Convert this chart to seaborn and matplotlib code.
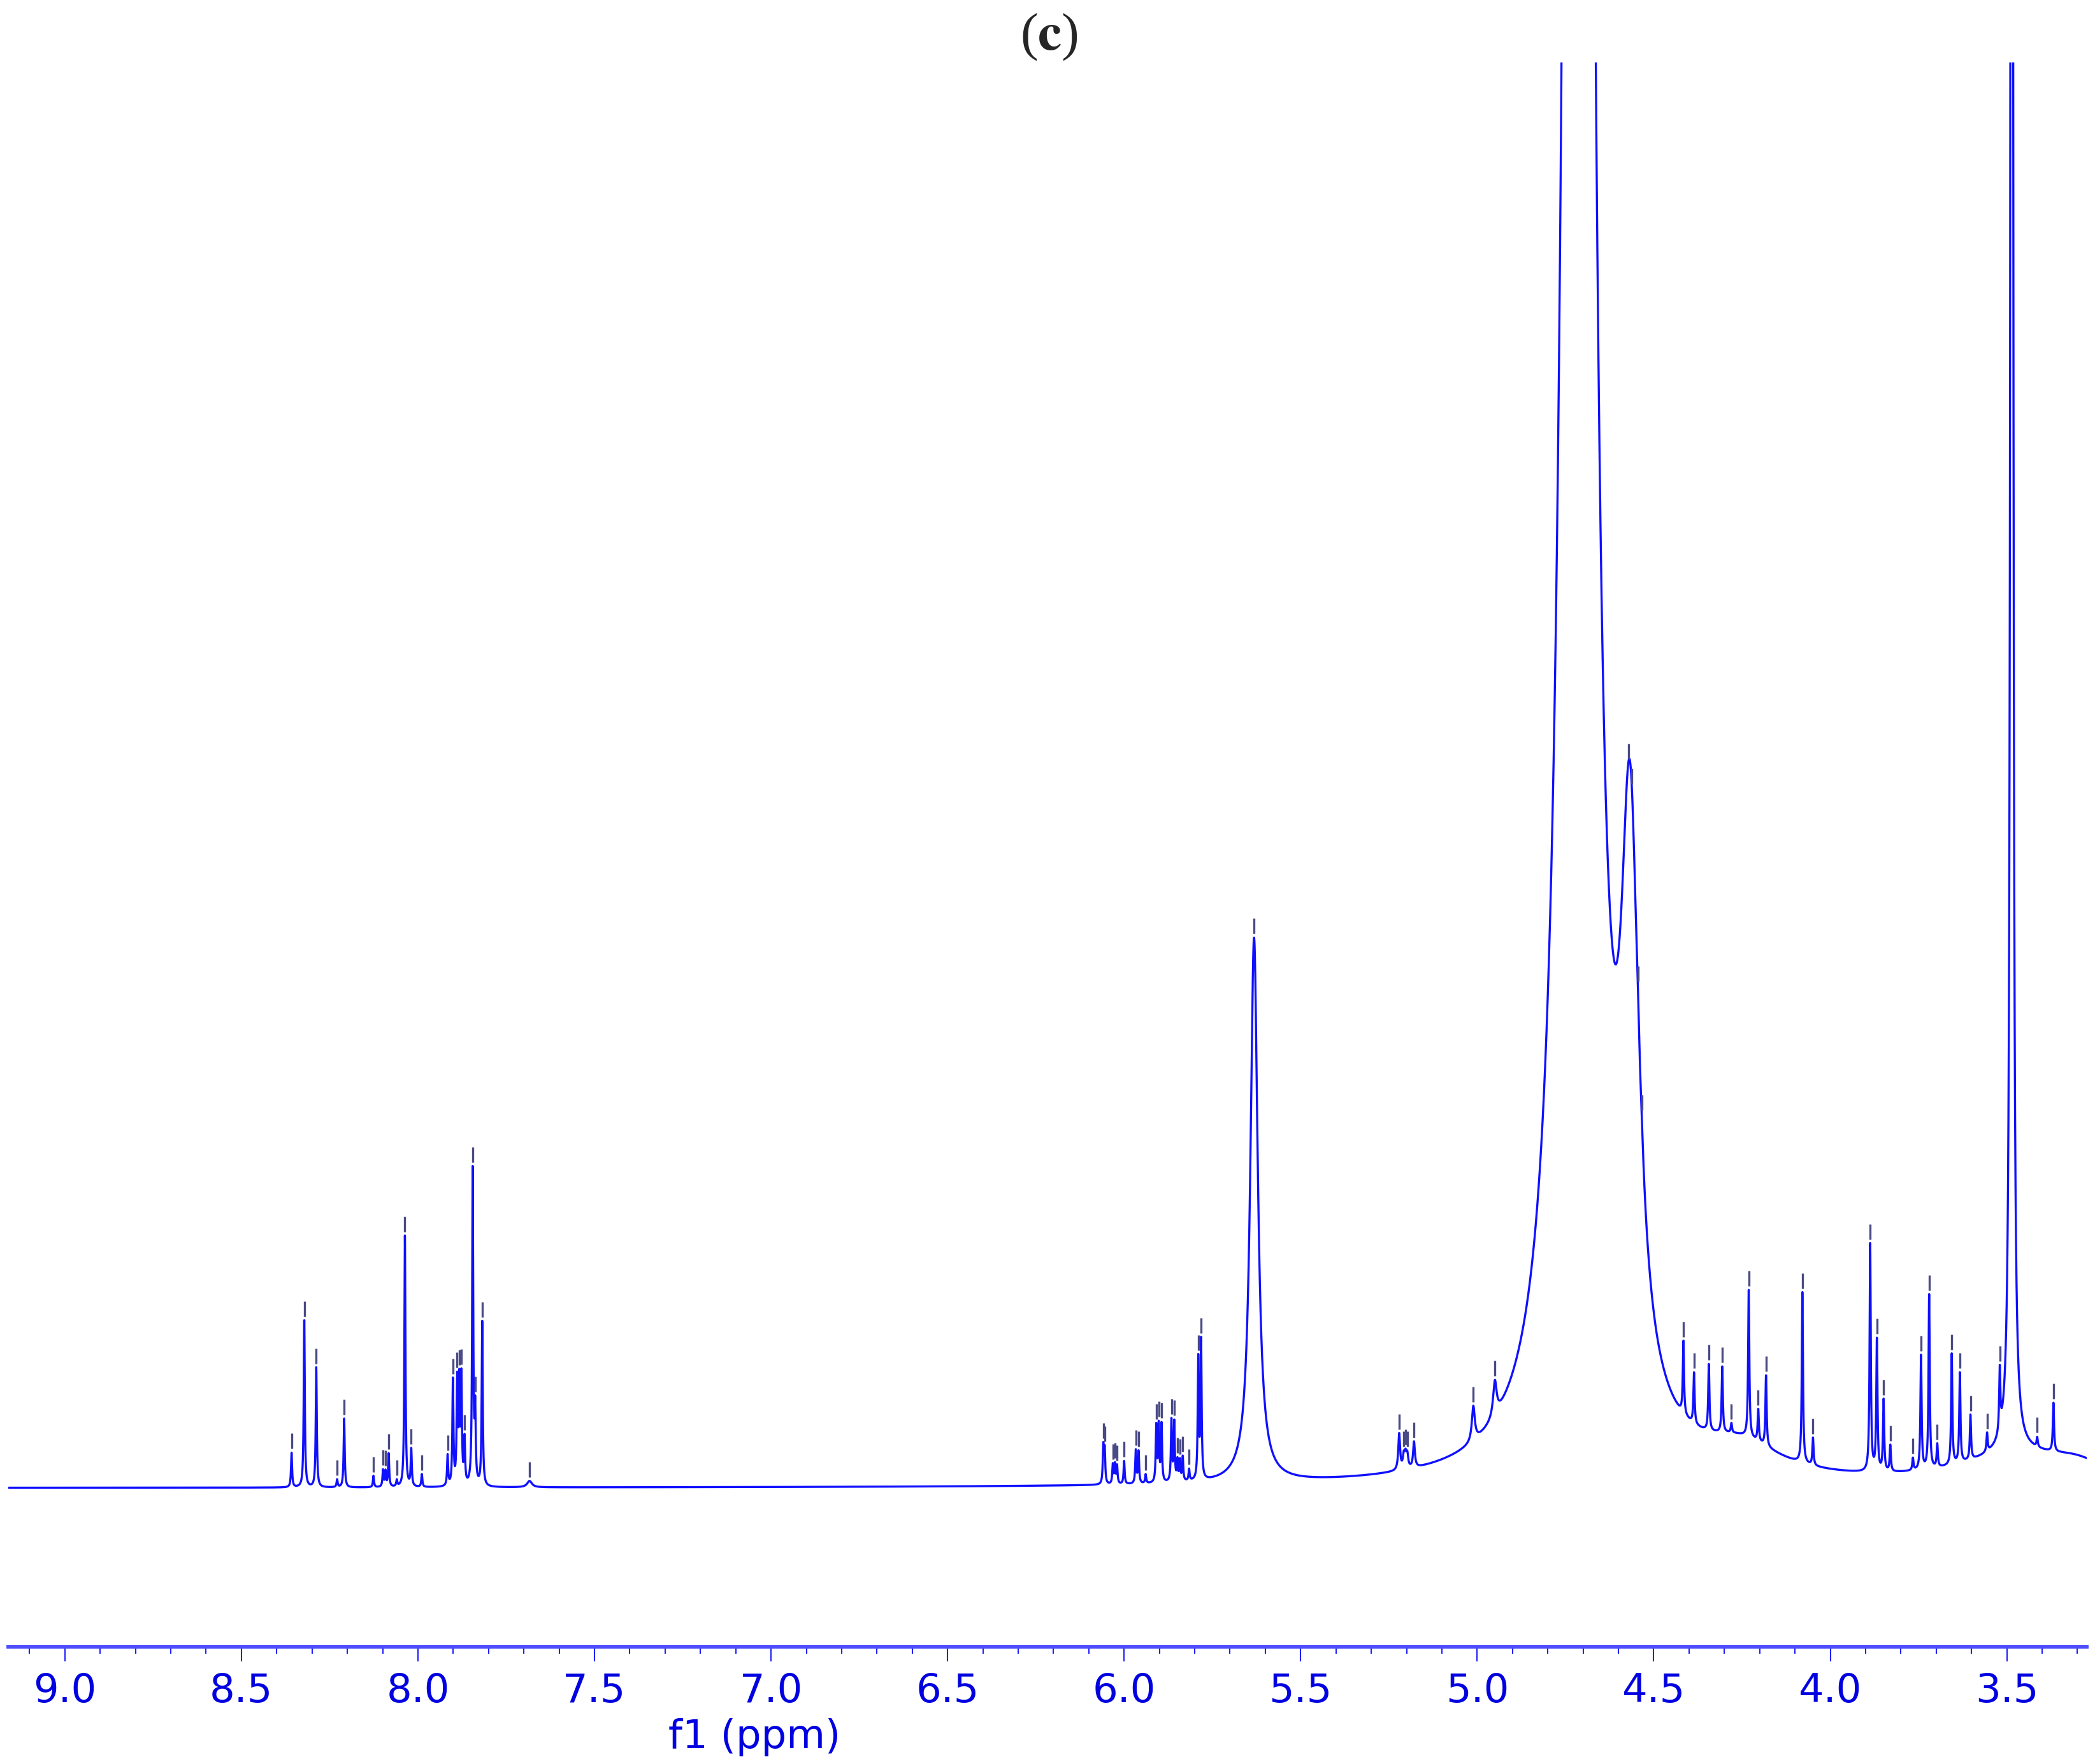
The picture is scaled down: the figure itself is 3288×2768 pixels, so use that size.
import numpy as np
import pandas as pd
import seaborn as sns
import matplotlib.pyplot as plt

# picked peaks: shift (ppm), height (baseline = 0), half width (ppm)
peak_ppm = [8.358, 8.322, 8.288, 8.229, 8.209, 8.126, 8.099, 8.092, 8.083, 8.060,
            8.037, 8.019, 7.989, 7.916, 7.901, 7.889, 7.883, 7.877, 7.868, 7.845,
            7.838, 7.818, 7.684,
            6.059, 6.055, 6.032, 6.026, 6.020, 6.000, 5.967, 5.959, 5.939, 5.909,
            5.902, 5.894, 5.866, 5.858, 5.849, 5.842, 5.834, 5.816, 5.790, 5.782,
            5.632,
            5.221, 5.208, 5.203, 5.198, 5.179, 5.011, 4.950,
            4.572, 4.562, 4.545, 4.534,
            4.416, 4.386, 4.344, 4.306, 4.280, 4.231, 4.204, 4.182, 4.079, 4.049,
            3.887, 3.868, 3.849, 3.830, 3.766, 3.743, 3.720, 3.697, 3.656, 3.633,
            3.603, 3.556, 3.520, 3.414, 3.368]
peak_height = [54, 262, 188, 12, 108, 18, 26, 24, 52, 10,
               395, 58, 20, 48, 165, 160, 155, 165, 70, 495,
               110, 258, 10,
               58, 52, 30, 30, 28, 36, 52, 50, 14, 88,
               88, 90, 96, 92, 32, 32, 38, 18, 188, 216,
               855,
               57, 20, 20, 20, 40, 55, 55,
               450, 430, 20, 15,
               114, 80, 104, 103, 15, 231, 50, 111, 268, 43,
               357, 206, 112, 41, 19, 179, 273, 36, 174, 141,
               70, 29, 98, 15, 76]
peak_hw = ([0.0018] * 22 + [0.008]          # aromatic
           + [0.0018] * 20                  # 6.1 - 5.78
           + [0.0125]                       # 5.63
           + [0.003] * 5 + [0.005, 0.006]   # 5.22 - 4.95
           + [0.028, 0.028, 0.004, 0.004]   # 4.57
           + [0.002] * 25)                  # 4.42 - 3.37

# unpicked lines: water, broad sugar hump, singlet at 3.49 and the broad feet
big_ppm = [4.713, 4.25, 3.486, 3.47, 3.30]
big_height = [15100, 45, 8000, 45, 20]
big_hw = [0.02, 0.13, 0.0025, 0.2, 0.1]

ticks_major = [9.0, 8.5, 8.0, 7.5, 7.0, 6.5, 6.0, 5.5, 5.0, 4.5, 4.0, 3.5]

ppm = np.linspace(9.16, 3.274, 40000)
intensity = np.zeros_like(ppm)
for c, h, w in zip(peak_ppm + big_ppm, peak_height + big_height, peak_hw + big_hw):
    intensity += h / (1 + ((ppm - c) / w) ** 2)
df = pd.DataFrame({"ppm": ppm, "intensity": intensity})

sns.set_theme(style="white")
plt.rcParams["font.family"] = ["DejaVu Sans"]
plt.rcParams["mathtext.fontset"] = "stix"

fig = plt.figure(figsize=(10.96, 9.2267), dpi=300)
ax = fig.add_axes([0.004, 0.0665, 0.992, 0.8981])

sns.lineplot(data=df, x="ppm", y="intensity", ax=ax, color="#1010ff",
             lw=0.8, estimator=None, sort=False)

# peak pick markers
top = np.interp(peak_ppm, ppm[::-1], intensity[::-1])
ax.vlines(peak_ppm, top + 6, top + 30, color="#4a4a85", lw=0.8)

ax.set_xlim(9.16, 3.274)
ax.set_ylim(-249, 2237)
for s in ["left", "right", "top"]:
    ax.spines[s].set_visible(False)
ax.spines["bottom"].set_color("#4d4dff")
ax.spines["bottom"].set_linewidth(1.4)
ax.set_yticks([])
ax.set_ylabel("")
ax.set_xticks(ticks_major)
ax.set_xticklabels([f"{t:.1f}" for t in ticks_major])
ax.set_xticks(np.arange(3.3, 9.15, 0.1), minor=True)
ax.tick_params(axis="x", which="major", direction="out", length=5.5, width=0.5,
               color="#2020ff", labelcolor="#0000e0", labelsize=15, pad=4, bottom=True)
ax.tick_params(axis="x", which="minor", direction="out", length=2.6, width=0.5,
               color="#2020ff", bottom=True)
ax.set_xlabel("f1 (ppm)", color="#0000e0", fontsize=15)
ax.xaxis.set_label_coords(0.359, -0.045)
ax.grid(False)

fig.text(0.5006, 0.979, r"($\mathbf{c}$)", ha="center", va="center", fontsize=20,
         family="Liberation Serif")

fig.savefig("out.png", dpi=300, facecolor="white")
